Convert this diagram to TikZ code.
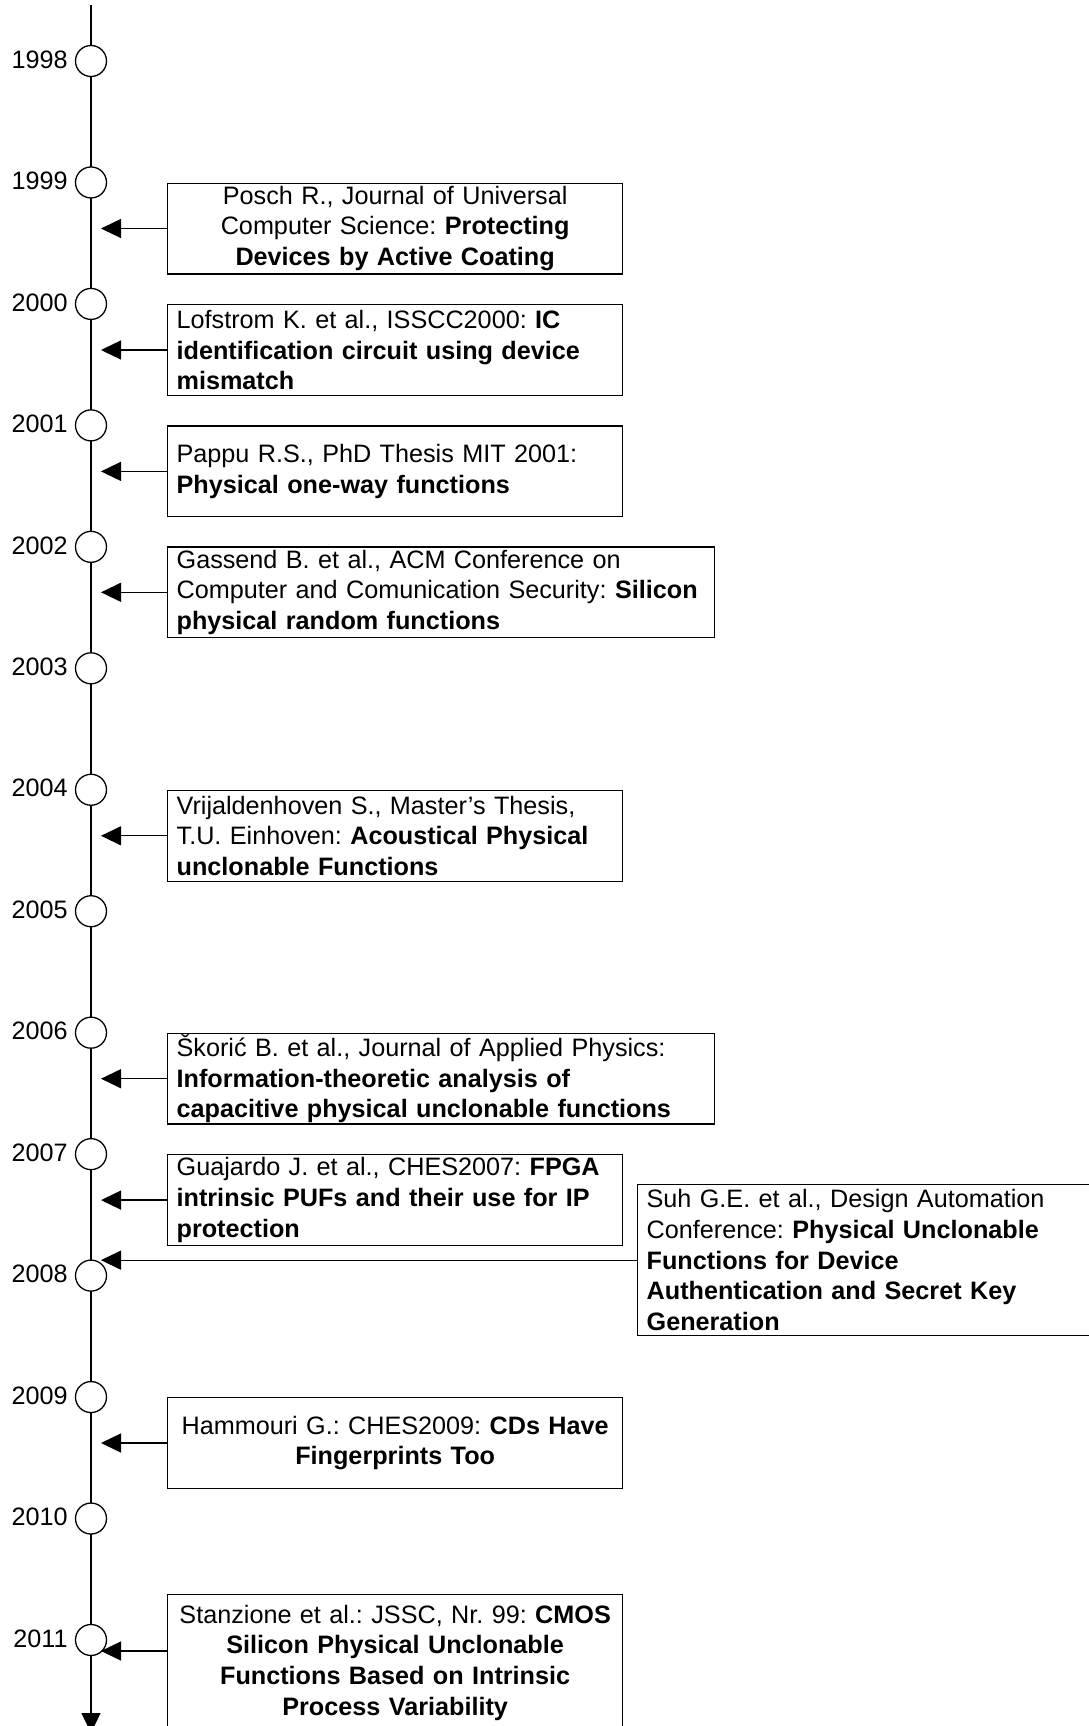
\documentclass[tikz,border=0pt]{standalone}
\usepackage{fontspec}
\setmainfont{Liberation Sans}
\usetikzlibrary{arrows.meta}

\begin{document}
\begin{tikzpicture}[x=1pt,y=-1pt,
  every node/.style={font=\fontsize{25.2}{30.7}\selectfont,
    execute at begin node={\frenchspacing\hyphenpenalty=10000\exhyphenpenalty=10000}},
  yearmark/.style={circle,draw,fill=white,minimum size=31pt,inner sep=0pt,line width=1.3pt},
  yearlabel/.style={anchor=east,inner sep=0pt},
  refbox/.style={draw,line width=1.3pt,rectangle,anchor=north west,inner xsep=9pt,
    inner ysep=0pt,minimum height=90.7pt,align=left},
  narrow/.style={text width=437pt},
  wide/.style={text width=529pt},
  conn/.style={line width=1.3pt,-{Triangle[length=20pt,width=19pt]}},
]
\useasboundingbox (0,0) rectangle (1088,1726);

% main time axis
\coordinate (tltop) at (91,5);
\coordinate (tlend) at (91,1733);
\draw[conn] (tltop) -- (tlend);

% one marker per year
\foreach \yr [count=\k from 0] in {1998,1999,2000,2001,2002,2003,2004,2005,2006,2007,2008,2009,2010,2011} {
  \node[yearmark] (y\yr) at (91,{61+121.46*\k}) {};
  \node[yearlabel] (l\yr) at ([xshift=-7pt,yshift=1.5pt]y\yr.west) {\yr};
}

% publications
\node[refbox,narrow,align=center] (posch) at (167,182.5)
  {Posch R., Journal of Universal\\Computer Science: \textbf{Protecting}\\\textbf{Devices by Active Coating}};
\node[refbox,narrow] (lofstrom) at (167,304)
  {Lofstrom K. et al., ISSCC2000: \textbf{IC}\\\textbf{identification circuit using device}\\\textbf{mismatch}};
\node[refbox,narrow] (pappu) at (167,425.4)
  {Pappu R.S., PhD Thesis MIT 2001:\\\textbf{Physical one-way functions}};
\node[refbox,wide] (gassend) at (167,546.3)
  {Gassend B. et al., ACM Conference on\\Computer and Comunication Security: \textbf{Silicon}\\\textbf{physical random functions}};
\node[refbox,narrow] (vrij) at (167,789.8)
  {Vrijaldenhoven S., Master’s Thesis,\\T.U. Einhoven: \textbf{Acoustical Physical}\\\textbf{unclonable Functions}};
\node[refbox,wide] (skoric) at (167,1032.7)
  {Škorić B. et al., Journal of Applied Physics:\\\textbf{Information-theoretic analysis of}\\\textbf{capacitive physical unclonable functions}};
\node[refbox,narrow] (guajardo) at (167,1154.1)
  {Guajardo J. et al., CHES2007: \textbf{FPGA}\\\textbf{intrinsic PUFs and their use for IP}\\\textbf{protection}};
\node[refbox,text width=462pt,minimum height=151pt] (suh) at (637,1184)
  {Suh G.E. et al., Design Automation\\Conference: \textbf{Physical Unclonable}\\\textbf{Functions for Device}\\\textbf{Authentication and Secret Key}\\\textbf{Generation}};
\node[refbox,narrow,align=center] (hammouri) at (167,1397)
  {Hammouri G.: CHES2009: \textbf{CDs Have}\\\textbf{Fingerprints Too}};
\node[refbox,narrow,align=center,minimum height=136pt] (stanz) at (167,1594)
  {Stanzione et al.: JSSC, Nr. 99: \textbf{CMOS}\\\textbf{Silicon Physical Unclonable}\\\textbf{Functions Based on Intrinsic}\\\textbf{Process Variability}};

% links from each publication to the axis
\coordinate (tipx) at (101,0);
\foreach \b in {posch,lofstrom,pappu,gassend,vrij,skoric,guajardo,suh,hammouri}
  \draw[conn] (\b.west) -- (\b.west -| tipx);
\coordinate (stanztip) at (101,1651);
\draw[conn] (stanz.west |- stanztip) -- (stanztip);
\end{tikzpicture}
\end{document}
